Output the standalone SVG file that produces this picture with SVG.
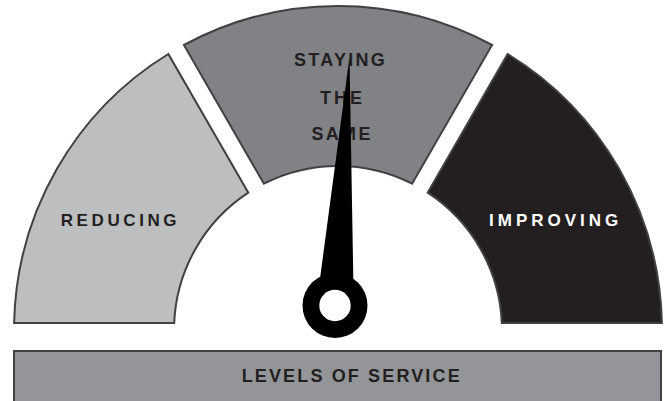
<svg xmlns="http://www.w3.org/2000/svg" width="670" height="401" viewBox="0 0 670 401">
<style>
.seg{stroke:#414042;stroke-width:2;stroke-linejoin:miter}
.lbl{font-family:"Liberation Sans",Arial,sans-serif;font-weight:bold;fill:#231f20}
</style>
<rect width="670" height="401" fill="#ffffff"/>
<g id="reducing">
<path class="seg" fill="#bcbec0" d="M14.1 323 A324 324 0 0 1 168.3 54 L248.3 192.7 A164 164 0 0 0 174.2 323 Z"/>
<text class="lbl" x="60.7" y="226" font-size="17" letter-spacing="3.6">REDUCING</text>
</g>
<g id="staying">
<path class="seg" fill="#808285" d="M183.9 45 A324 324 0 0 1 492.1 45 L412.1 183.7 A164 164 0 0 0 263.9 183.7 Z"/>
<text class="lbl" x="294" y="66" font-size="18" letter-spacing="2.3">STAYING</text>
<text class="lbl" x="320" y="103.5" font-size="18" letter-spacing="3">THE</text>
<text class="lbl" x="311.5" y="140" font-size="18" letter-spacing="2.3">SAME</text>
</g>
<g id="improving">
<path class="seg" fill="#231f20" d="M507.7 54 A324 324 0 0 1 661.9 323 L501.8 323 A164 164 0 0 0 427.7 192.7 Z"/>
<text class="lbl" x="489" y="226" font-size="17" letter-spacing="4" fill="#ffffff" style="fill:#ffffff">IMPROVING</text>
</g>
<g id="bar">
<rect class="seg" fill="#939598" x="14" y="351" width="647" height="60"/>
<text class="lbl" x="241.7" y="382" font-size="18" letter-spacing="2.14">LEVELS OF SERVICE</text>
</g>
<g id="needle">
<polygon points="349.5,57 353.5,290 318.5,290" fill="#000000"/>
<circle cx="335" cy="305.5" r="32.5" fill="#000000"/>
<circle cx="335" cy="305.5" r="15.7" fill="#ffffff"/>
</g>
<g id="connectors"></g>
</svg>
